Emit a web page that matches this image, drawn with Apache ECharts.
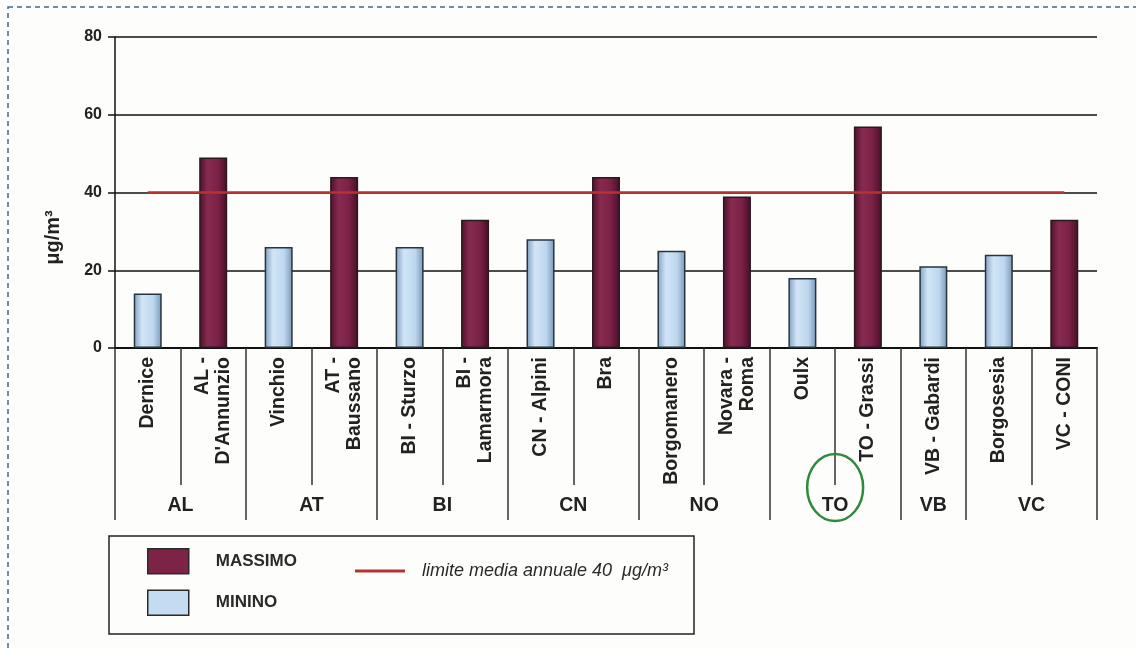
<!DOCTYPE html>
<html>
<head>
<meta charset="utf-8">
<script src="https://cdn.jsdelivr.net/npm/echarts@6/dist/echarts.min.js"></script>
<style>
  html, body { margin: 0; padding: 0; background: #fdfdfb; }
  #chart { width: 1136px; height: 649px; }
</style>
</head>
<body>
<div id="chart"></div>
<script>
// Monitoring stations, grouped by province
const stations = ['Dernice', "AL -\nD'Annunzio", 'Vinchio', 'AT -\nBaussano', 'BI - Sturzo',
  'BI -\nLamarmora', 'CN - Alpini', 'Bra', 'Borgomanero', 'Novara -\nRoma', 'Oulx',
  'TO - Grassi', 'VB - Gabardi', 'Borgosesia', 'VC - CONI'];
const provinces = ['AL', 'AT', 'BI', 'CN', 'NO', 'TO', 'VB', 'VC'];
const provinceSizes = [2, 2, 2, 2, 2, 2, 1, 2];

// Annual means (µg/m³): highest and lowest station of each province
const massimo = ['-', 49, '-', 44, '-', 33, '-', 44, '-', 39, '-', 57, '-', '-', 33];
const minimo = [14, '-', 26, '-', 26, '-', 28, '-', 25, '-', 18, '-', 21, 24, '-'];
const annualLimit = 40;
const yTicks = { min: 0, max: 80, step: 20 };

const FONT = "'Liberation Sans', Arial, sans-serif";
const INK = '#222';
const limitName = 'limite media annuale 40  μg/m³';

// Province axis: half-station resolution, so labels can sit between two stations
const halfCount = stations.length * 2;
const provinceAxisData = new Array(halfCount + 1).fill('');
const provinceBoundary = new Array(halfCount + 1).fill(false);
let cursor = 0;
provinceBoundary[0] = true;
provinces.forEach((p, i) => {
  const span = provinceSizes[i] * 2;
  provinceAxisData[cursor + span / 2] = p;
  cursor += span;
  provinceBoundary[cursor] = true;
});
const limitLine = stations.map(() => annualLimit);

const maroonFill = new echarts.graphic.LinearGradient(0, 0, 1, 0, [
  { offset: 0, color: '#4f0f2c' },
  { offset: 0.3, color: '#872a50' },
  { offset: 0.65, color: '#7c2247' },
  { offset: 1, color: '#4a0d28' }
]);
const blueFill = new echarts.graphic.LinearGradient(0, 0, 1, 0, [
  { offset: 0, color: '#7f9fbf' },
  { offset: 0.3, color: '#d2e5f6' },
  { offset: 0.7, color: '#bdd7ef' },
  { offset: 1, color: '#7896b5' }
]);

const chart = echarts.init(document.getElementById('chart'));
chart.setOption({
  backgroundColor: '#fdfdfb',
  animation: false,
  textStyle: { fontFamily: FONT },
  grid: { left: 115, right: 39, top: 37, bottom: 301 },
  legend: [
    {
      data: [
        { name: 'MASSIMO', itemStyle: { color: '#7d2347', borderColor: '#2a2a2a', borderWidth: 1.5 } },
        { name: 'MININO', itemStyle: { color: '#c4dcf2', borderColor: '#2a2a2a', borderWidth: 1.5 } }
      ],
      orient: 'vertical',
      left: 142, top: 543,
      itemWidth: 41, itemHeight: 25, itemGap: 15,
      icon: 'rect',
      selectedMode: false,
      textStyle: { fontFamily: FONT, fontSize: 17, fontWeight: 'bold', color: '#2a2a2a', padding: [0, 0, 0, 22] }
    },
    {
      data: [{ name: limitName, itemStyle: { color: '#b83232' } }],
      left: 350, top: 557,
      itemWidth: 50, itemHeight: 3,
      icon: 'rect',
      selectedMode: false,
      textStyle: { fontFamily: FONT, fontSize: 18, fontStyle: 'italic', color: '#2a2a2a', padding: [0, 0, 10, 12] }
    }
  ],
  xAxis: [
    {
      type: 'category',
      data: stations,
      axisLine: { lineStyle: { color: '#111', width: 2 } },
      axisTick: { show: true, interval: 0, length: 137, lineStyle: { color: '#333', width: 1.5 } },
      axisLabel: {
        interval: 0, rotate: 90, margin: 9,
        fontFamily: FONT, fontSize: 19.5, fontWeight: 'bold', lineHeight: 21, color: INK
      }
    },
    {
      type: 'category',
      data: provinceAxisData,
      boundaryGap: false,
      position: 'bottom',
      axisLine: { show: false },
      axisTick: {
        show: true, length: 172,
        interval: (i) => provinceBoundary[i],
        lineStyle: { color: '#333', width: 1.5 }
      },
      axisLabel: { interval: 0, margin: 148, fontFamily: FONT, fontSize: 19.5, fontWeight: 'bold', color: INK }
    }
  ],
  yAxis: {
    type: 'value',
    min: yTicks.min, max: yTicks.max, interval: yTicks.step,
    name: 'μg/m³',
    nameLocation: 'middle',
    nameGap: 52,
    nameTextStyle: { fontFamily: FONT, fontSize: 20, fontWeight: 'bold', color: INK, padding: [0, 90, 0, 0] },
    axisLine: { show: true, lineStyle: { color: '#111', width: 1.5 } },
    axisTick: { show: true, length: 7, lineStyle: { color: '#111', width: 1.5 } },
    axisLabel: { fontFamily: FONT, fontSize: 16, fontWeight: 'bold', color: INK, margin: 13 },
    splitLine: { lineStyle: { color: '#111', width: 1.5 } }
  },
  series: [
    {
      name: 'MASSIMO', type: 'bar', data: massimo, barWidth: 28, barGap: '-100%',
      itemStyle: { color: maroonFill, borderColor: '#2a1a20', borderWidth: 1.5 }
    },
    {
      name: 'MININO', type: 'bar', data: minimo, barWidth: 28,
      itemStyle: { color: blueFill, borderColor: '#263441', borderWidth: 1.5 }
    },
    {
      name: limitName, type: 'line', data: limitLine, symbol: 'none', z: 5,
      lineStyle: { color: '#b83232', width: 2.5 },
      itemStyle: { color: '#b83232' }
    }
  ]
});

// Frame, legend box and the highlight around the TO province label
const toIndex = provinceAxisData.indexOf('TO');
const toX = chart.convertToPixel({ xAxisIndex: 1 }, toIndex);
chart.setOption({
  graphic: [
    {
      type: 'rect', silent: true, z: 0,
      shape: { x: 8, y: 7, width: 1200, height: 700 },
      style: { fill: 'none', stroke: '#3d6a90', lineWidth: 1.5, lineDash: [5, 4] }
    },
    {
      type: 'rect', silent: true,
      shape: { x: 109, y: 536, width: 585, height: 98 },
      style: { fill: 'none', stroke: '#222', lineWidth: 1.5 }
    },
    {
      type: 'ellipse', silent: true, z: 10,
      shape: { cx: toX, cy: 487.5, rx: 28, ry: 33.5 },
      style: { fill: 'none', stroke: '#2f8a3c', lineWidth: 2.5 }
    }
  ]
});
</script>
</body>
</html>
